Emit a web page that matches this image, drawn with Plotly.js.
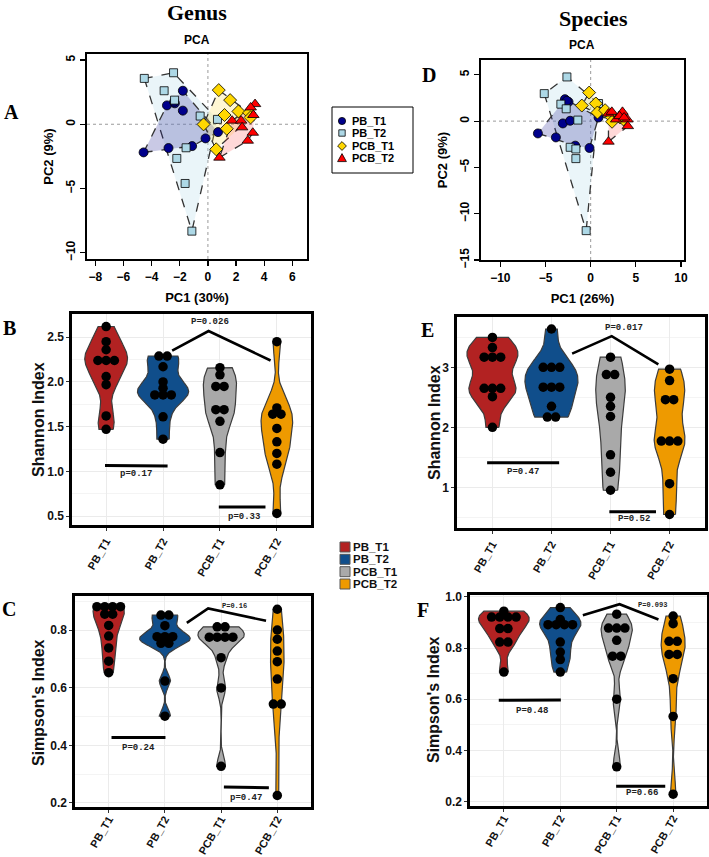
<!DOCTYPE html>
<html><head><meta charset="utf-8">
<script src="https://cdn.plot.ly/plotly-3.0.1.min.js"></script>
<style>body{margin:0;background:#fff}#chart{width:709px;height:857px}</style>
</head><body><div id="chart"></div>
<script>
const groups = ['PB_T1','PB_T2','PCB_T1','PCB_T2'];

// ---- PCA (Genus) ----
const genusPB_T1_x  = [-1.78, -2.91, -2.35, -2.40, -1.78, -4.57, -2.80, -1.12, -0.17, 0.72];
const genusPB_T1_y  = [2.61, 1.47, 1.63, 1.75, 1.06, -2.19, -1.85, -1.70, -1.10, -0.61];
const genusPB_T2_x  = [-4.52, -2.44, -3.11, -2.37, -0.55, 0.68, -1.55, -2.21, -1.62, -1.14];
const genusPB_T2_y  = [3.57, 4.01, 2.61, 1.88, 0.64, 0.38, -1.83, -2.66, -4.61, -8.32];
const genusPCB_T1_x = [0.77, 1.58, 2.17, 1.18, -0.31, 1.34, 0.59, 2.93, 3.03];
const genusPCB_T1_y = [2.66, 1.88, 1.00, 0.72, -0.01, -0.35, -1.95, 0.89, 0.53];
const genusPCB_T2_x = [3.35, 3.04, 3.23, 1.72, 2.36, 2.43, 3.19, 2.83, 0.82];
const genusPCB_T2_y = [1.57, 1.31, 0.72, 0.28, 0.28, -0.24, -0.66, -1.28, -2.60];

// ---- PCA (Species) ----
const speciesPB_T1_x  = [-2.85, -2.45, -2.64, -3.08, -2.27, -5.84, -3.85, -1.71, -0.13, 0.87];
const speciesPB_T1_y  = [2.37, 2.08, 2.19, -0.25, 0.04, -1.33, -1.76, -2.65, -2.90, 0.39];
const speciesPB_T2_x  = [-2.63, -5.14, -3.30, -2.71, -1.42, -2.27, -1.64, -1.64, -0.50, 0.87];
const speciesPB_T2_y  = [4.77, 2.97, 1.83, 1.33, 0.11, -2.83, -3.01, -4.05, -11.83, 1.90];
const speciesPCB_T1_x = [-0.17, 0.57, -0.98, 0.75, 1.60, 2.34, 3.26, 2.37, 3.63];
const speciesPCB_T1_y = [3.08, 1.90, 1.68, 0.93, 1.18, 0.39, 0.39, -0.07, 0.18];
const speciesPCB_T2_x = [1.97, 2.34, 3.52, 2.82, 4.07, 4.11, 1.97, 3.19, 3.70];
const speciesPCB_T2_y = [0.82, 1.00, 1.00, 0.18, 0.18, -0.54, -2.22, 0.54, 0.39];

// ---- Shannon (Genus) ----
const genusShannon_PB_T1  = [2.62, 2.45, 2.36, 2.24, 2.24, 2.24, 2.06, 1.97, 1.62, 1.47];
const genusShannon_PB_T2  = [2.29, 2.29, 2.17, 2.00, 1.93, 1.855, 1.855, 1.855, 1.61, 1.36];
const genusShannon_PCB_T1 = [2.16, 2.08, 1.95, 1.95, 1.69, 1.69, 1.56, 1.21, 0.85];
const genusShannon_PCB_T2 = [2.45, 1.71, 1.64, 1.64, 1.48, 1.33, 1.20, 1.08, 0.53];
// ---- Simpson (Genus) ----
const genusSimpson_PB_T1  = [0.881, 0.881, 0.881, 0.881, 0.855, 0.855, 0.816, 0.779, 0.738, 0.692, 0.652];
const genusSimpson_PB_T2  = [0.852, 0.852, 0.815, 0.777, 0.777, 0.777, 0.754, 0.754, 0.623, 0.501];
const genusSimpson_PCB_T1 = [0.811, 0.811, 0.775, 0.775, 0.775, 0.775, 0.704, 0.599, 0.327];
const genusSimpson_PCB_T2 = [0.872, 0.800, 0.768, 0.727, 0.690, 0.630, 0.543, 0.543, 0.226];
// ---- Shannon (Species) ----
const speciesShannon_PB_T1  = [3.51, 3.34, 3.18, 3.18, 3.18, 2.66, 2.66, 2.66, 2.52, 2.01];
const speciesShannon_PB_T2  = [3.65, 3.01, 3.01, 3.01, 2.68, 2.68, 2.68, 2.36, 2.18, 2.18];
const speciesShannon_PCB_T1 = [3.18, 2.89, 2.89, 2.51, 2.36, 2.19, 1.55, 1.26, 0.96];
const speciesShannon_PCB_T2 = [2.98, 2.79, 2.47, 2.47, 1.78, 1.78, 1.78, 1.07, 0.555];
// ---- Simpson (Species) ----
const speciesSimpson_PB_T1  = [0.944, 0.921, 0.921, 0.921, 0.921, 0.876, 0.876, 0.823, 0.823, 0.706];
const speciesSimpson_PB_T2  = [0.958, 0.911, 0.891, 0.891, 0.891, 0.891, 0.823, 0.784, 0.755, 0.706];
const speciesSimpson_PCB_T1 = [0.932, 0.878, 0.878, 0.878, 0.830, 0.768, 0.768, 0.600, 0.336];
const speciesSimpson_PCB_T2 = [0.925, 0.895, 0.826, 0.826, 0.775, 0.775, 0.680, 0.533, 0.229];

// ---- significance brackets and labels ----
const sigB_lines = [{x:[0.98,2.08], y:[1.065,1.06]}, {x:[2.16,2.80,3.89], y:[2.35,2.57,2.24]}, {x:[2.98,3.80], y:[0.60,0.60]}];
const sigB_text  = [{x:1.53, y:0.965, t:'p=0.17', s:9}, {x:2.83, y:2.665, t:'P=0.026', s:9}, {x:3.42, y:0.49, t:'p=0.33', s:9}];
const sigC_lines = [{x:[1.05,2.01], y:[0.427,0.427]}, {x:[2.39,2.77,3.80], y:[0.825,0.875,0.832]}, {x:[3.05,3.85], y:[0.255,0.253]}];
const sigC_text  = [{x:1.53, y:0.392, t:'P=0.24', s:9}, {x:3.24, y:0.885, t:'P=0.16', s:7}, {x:3.45, y:0.217, t:'p=0.47', s:9}];
const sigE_lines = [{x:[0.91,2.13], y:[1.42,1.42]}, {x:[2.35,3.02,3.81], y:[3.24,3.53,3.06]}, {x:[2.98,3.77], y:[0.60,0.60]}];
const sigE_text  = [{x:1.51, y:1.26, t:'P=0.47', s:9}, {x:3.22, y:3.66, t:'P=0.017', s:9}, {x:3.40, y:0.48, t:'P=0.52', s:9}];
const sigF_lines = [{x:[0.91,2.01], y:[0.596,0.597]}, {x:[2.40,3.05,3.74], y:[0.928,0.971,0.911]}, {x:[2.99,3.86], y:[0.26,0.26]}];
const sigF_text  = [{x:1.49, y:0.553, t:'P=0.48', s:9}, {x:3.63, y:0.968, t:'P=0.093', s:7}, {x:3.45, y:0.232, t:'P=0.66', s:9}];

// ---- styling ----
const SANS = 'Liberation Sans, Arial, sans-serif';
const SERIF = 'Liberation Serif, Times New Roman, serif';
const MONO = 'Liberation Mono, DejaVu Sans Mono, monospace';
const W = 709, H = 857;
const fx = p => p / W, fy = p => 1 - p / H;
const pcaSym = {PB_T1:'circle', PB_T2:'square', PCB_T1:'diamond', PCB_T2:'triangle-up'};
const pcaCol = {PB_T1:'#00008B', PB_T2:'#ADD8E6', PCB_T1:'#FFD700', PCB_T2:'#FF0000'};
const pcaSize = {PB_T1:9, PB_T2:8, PCB_T1:10, PCB_T2:10};
const hullFill = {PB_T1:'rgba(40,40,150,0.25)', PB_T2:'rgba(173,216,230,0.25)', PCB_T1:'rgba(255,225,80,0.25)', PCB_T2:'rgba(255,60,60,0.2)'};
const vioCol = {PB_T1:'#B22222', PB_T2:'#104E8B', PCB_T1:'#A9A9A9', PCB_T2:'#EE9A00'};

function hull(xs, ys) {
  const pts = xs.map((x,i)=>[x,ys[i]]).sort((a,b)=>a[0]-b[0]||a[1]-b[1]);
  const cr=(o,a,b)=>(a[0]-o[0])*(b[1]-o[1])-(a[1]-o[1])*(b[0]-o[0]);
  const lo=[]; for(const p of pts){while(lo.length>=2&&cr(lo[lo.length-2],lo[lo.length-1],p)<=0)lo.pop();lo.push(p);}
  const up=[]; for(let i=pts.length-1;i>=0;i--){const p=pts[i];while(up.length>=2&&cr(up[up.length-2],up[up.length-1],p)<=0)up.pop();up.push(p);}
  up.pop(); lo.pop(); const h=lo.concat(up); h.push(h[0]);
  return {x:h.map(p=>p[0]), y:h.map(p=>p[1])};
}
function q7(s,p){const h=(s.length-1)*p,l=Math.floor(h);return s[l]+(h-l)*(s[Math.min(l+1,s.length-1)]-s[l]);}
function nrd0(v){
  const n=v.length, m=v.reduce((a,b)=>a+b,0)/n;
  const sd=Math.sqrt(v.reduce((a,b)=>a+(b-m)*(b-m),0)/(n-1));
  const s=[...v].sort((a,b)=>a-b); const iqr=q7(s,0.75)-q7(s,0.25);
  let lo=Math.min(sd, iqr/1.34); if(!(lo>0)) lo=sd||1;
  return 0.9*lo*Math.pow(n,-0.2);
}
// Gaussian KDE, trimmed to the data range (like ggplot2 geom_violin, trim = TRUE)
function kde(v, npts){
  const bw=nrd0(v), n=v.length, lo=Math.min(...v), hi=Math.max(...v);
  const ys=[], ds=[];
  for(let k=0;k<npts;k++){
    const y=lo+(hi-lo)*k/(npts-1); let s=0;
    for(const xi of v){const z=(y-xi)/bw; s+=Math.exp(-0.5*z*z);}
    ys.push(y); ds.push(s/(n*bw*Math.sqrt(2*Math.PI)));
  }
  return {ys, ds};
}
function dodge(vals, center, step){
  const cnt={}, seen={}; vals.forEach(v=>cnt[v]=(cnt[v]||0)+1);
  return vals.map(v=>{const i=seen[v]||0; seen[v]=i+1; return center+(i-(cnt[v]-1)/2)*step;});
}

const traces = [];
const annotations = [];
const shapes = [];

function addPCA(data, xa, ya) {
  ['PB_T2','PB_T1','PCB_T1','PCB_T2'].forEach(g=>{
    const h = hull(data[g][0], data[g][1]);
    traces.push({type:'scatter', mode:'lines', x:h.x, y:h.y, xaxis:xa, yaxis:ya, fill:'toself',
      fillcolor:hullFill[g], line:{color:'#333', width:1.3, dash:'dash'}, hoverinfo:'skip', showlegend:false});
  });
  groups.forEach(g=>{
    traces.push({type:'scatter', mode:'markers', name:g, x:data[g][0], y:data[g][1], xaxis:xa, yaxis:ya,
      marker:{symbol:pcaSym[g], color:pcaCol[g], size:pcaSize[g], line:{color:'#000', width:0.8}},
      showlegend:false, hoverinfo:'skip'});
  });
}
addPCA({PB_T1:[genusPB_T1_x,genusPB_T1_y], PB_T2:[genusPB_T2_x,genusPB_T2_y], PCB_T1:[genusPCB_T1_x,genusPCB_T1_y], PCB_T2:[genusPCB_T2_x,genusPCB_T2_y]}, 'x', 'y');
addPCA({PB_T1:[speciesPB_T1_x,speciesPB_T1_y], PB_T2:[speciesPB_T2_x,speciesPB_T2_y], PCB_T1:[speciesPCB_T1_x,speciesPCB_T1_y], PCB_T2:[speciesPCB_T2_x,speciesPCB_T2_y]}, 'x2', 'y2');

function addViolins(sets, xa, ya, lines, texts, step) {
  // area-scaled violins: common density scale across the panel, max width 0.9
  const dens = sets.map(v=>kde(v, 256));
  const maxD = Math.max(...dens.map(d=>Math.max(...d.ds)));
  sets.forEach((vals, i)=>{
    const g = groups[i], pos = i+1, d = dens[i];
    const hw = d.ds.map(v=>0.45*v/maxD);
    const xs = d.ys.map((y,k)=>pos+hw[k]).concat(d.ys.map((y,k)=>pos-hw[k]).reverse());
    const ys = d.ys.concat([...d.ys].reverse());
    xs.push(xs[0]); ys.push(ys[0]);
    traces.push({type:'scatter', mode:'lines', name:g, x:xs, y:ys, xaxis:xa, yaxis:ya, fill:'toself',
      fillcolor:vioCol[g], line:{color:'#3c3c3c', width:1.2}, hoverinfo:'skip', showlegend:false});
  });
  sets.forEach((vals, i)=>{
    traces.push({type:'scatter', mode:'markers', x:dodge(vals, i+1, step), y:vals, xaxis:xa, yaxis:ya,
      marker:{color:'#000', size:9.5}, hoverinfo:'skip', showlegend:false});
  });
  lines.forEach(l=>traces.push({type:'scatter', mode:'lines', x:l.x, y:l.y, xaxis:xa, yaxis:ya,
    line:{color:'#000', width:l.x.length>2?2.6:3}, hoverinfo:'skip', showlegend:false}));
  texts.forEach(t=>annotations.push({xref:xa, yref:ya, x:t.x, y:t.y, text:t.t, showarrow:false,
    xanchor:'center', yanchor:'middle', font:{family:MONO, size:t.s, weight:'bold', color:'#222'}}));
}
addViolins([genusShannon_PB_T1, genusShannon_PB_T2, genusShannon_PCB_T1, genusShannon_PCB_T2], 'x3', 'y3', sigB_lines, sigB_text, 0.145);
addViolins([speciesShannon_PB_T1, speciesShannon_PB_T2, speciesShannon_PCB_T1, speciesShannon_PCB_T2], 'x4', 'y4', sigE_lines, sigE_text, 0.14);
addViolins([genusSimpson_PB_T1, genusSimpson_PB_T2, genusSimpson_PCB_T1, genusSimpson_PCB_T2], 'x5', 'y5', sigC_lines, sigC_text, 0.14);
addViolins([speciesSimpson_PB_T1, speciesSimpson_PB_T2, speciesSimpson_PCB_T1, speciesSimpson_PCB_T2], 'x6', 'y6', sigF_lines, sigF_text, 0.145);

// zero reference lines on PCA
[['x','y'],['x2','y2']].forEach(([xa,ya])=>{
  shapes.push({type:'line', xref:xa, yref:ya+' domain', x0:0, x1:0, y0:0, y1:1, line:{color:'#9a9a9a', width:1, dash:'dot'}, layer:'below'});
  shapes.push({type:'line', xref:xa+' domain', yref:ya, x0:0, x1:1, y0:0, y1:0, line:{color:'#9a9a9a', width:1, dash:'dot'}, layer:'below'});
});

// ---- legends (drawn as shapes + text) ----
const pcaLegendRows = [121, 133, 146, 158];
shapes.push({type:'rect', xref:'paper', yref:'paper', x0:fx(332), x1:fx(413), y0:fy(173), y1:fy(107), line:{color:'#000', width:1}, fillcolor:'#fff'});
groups.forEach((g,i)=>{
  const cx = 342, cy = pcaLegendRows[i];
  const P = (dx,dy)=>fx(cx+dx).toFixed(5)+','+fy(cy+dy).toFixed(5);
  const st = {xref:'paper', yref:'paper', fillcolor:pcaCol[g], line:{color:'#000', width:0.8}};
  if (pcaSym[g]==='circle') shapes.push({...st, type:'circle', x0:fx(cx-3.6), x1:fx(cx+3.6), y0:fy(cy+3.6), y1:fy(cy-3.6)});
  else if (pcaSym[g]==='square') shapes.push({...st, type:'rect', x0:fx(cx-3.2), x1:fx(cx+3.2), y0:fy(cy+3.2), y1:fy(cy-3.2)});
  else if (pcaSym[g]==='diamond') shapes.push({...st, type:'path', path:'M'+P(0,-4.4)+'L'+P(4.4,0)+'L'+P(0,4.4)+'L'+P(-4.4,0)+'Z'});
  else shapes.push({...st, type:'path', path:'M'+P(0,-4.4)+'L'+P(4.4,3.6)+'L'+P(-4.4,3.6)+'Z'});
  annotations.push({xref:'paper', yref:'paper', x:fx(351), y:fy(cy), xanchor:'left', yanchor:'middle', text:g, showarrow:false,
    borderpad:0, font:{family:SANS, size:11, weight:'bold', color:'#000'}});
});
const vioLegendRows = [547, 559.3, 571.7, 584];
groups.forEach((g,i)=>{
  const cy = vioLegendRows[i];
  shapes.push({type:'rect', xref:'paper', yref:'paper', x0:fx(340), x1:fx(350), y0:fy(cy+5), y1:fy(cy-5), fillcolor:vioCol[g], line:{color:'#555', width:1}});
  annotations.push({xref:'paper', yref:'paper', x:fx(352), y:fy(cy), xanchor:'left', yanchor:'middle', text:g, showarrow:false,
    borderpad:0, font:{family:SANS, size:11.5, weight:'bold', color:'#111'}});
});

// violin y-axis titles
[['Shannon Index',38,420],['Shannon Index',434,423],["Simpson's Index",38,703],["Simpson's Index",433,700]].forEach(([t,x,y])=>
  annotations.push({xref:'paper', yref:'paper', x:fx(x), y:fy(y), xanchor:'center', yanchor:'middle', textangle:-90, text:t, showarrow:false,
    font:{family:SANS, size:16, weight:'bold', color:'#111'}}));

function pcaX(dom, anchor, range, tv, title){
  return {domain:dom, anchor, range, tickvals:tv, ticks:'outside', ticklen:5, tickwidth:1.2, tickcolor:'#000',
    showline:true, mirror:true, linewidth:2.2, linecolor:'#000', showgrid:false, zeroline:false,
    tickfont:{family:SANS, size:12, weight:'bold', color:'#000'},
    title:{text:title, font:{family:SANS, size:13, weight:'bold', color:'#000'}, standoff:10}};
}
function pcaY(dom, anchor, range, tv, title){
  const a = pcaX(dom, anchor, range, tv, title); a.tickangle = -90; a.title.standoff = 8; return a;
}
function vX(dom, anchor, lso){
  return {domain:dom, anchor, range:[0.4,4.6], tickvals:[1,2,3,4], ticktext:groups, tickangle:-60,
    tickfont:{family:SANS, size:11, weight:'bold', color:'#111'}, ticks:'outside', ticklen:3, tickcolor:'#333',
    ticklabelstandoff:lso,
    showline:true, mirror:true, linewidth:2.6, linecolor:'#000', showgrid:true, gridcolor:'#ebebeb', gridwidth:1, zeroline:false};
}
function vY(dom, anchor, range, dtick, fmt){
  return {domain:dom, anchor, range, dtick, tick0:0, tickformat:fmt,
    tickfont:{family:SANS, size:12, weight:'bold', color:'#111'}, ticks:'outside', ticklen:3, tickcolor:'#333',
    showline:true, mirror:true, linewidth:2.6, linecolor:'#000', showgrid:true, gridcolor:'#ebebeb', zeroline:false,
    minor:{dtick:dtick/2, showgrid:true, gridcolor:'#f4f4f4', ticks:''}};
}

// titles & panel letters
[['Genus',197,13,22],['Species',593,18,22]].forEach(([t,x,y,s])=>annotations.push({xref:'paper',yref:'paper',x:fx(x),y:fy(y),xanchor:'center',yanchor:'middle',text:t,showarrow:false,font:{family:SERIF,size:s,weight:'bold',color:'#000'}}));
[['PCA',197,40],['PCA',582,45]].forEach(([t,x,y])=>annotations.push({xref:'paper',yref:'paper',x:fx(x),y:fy(y),xanchor:'center',yanchor:'middle',text:t,showarrow:false,font:{family:SANS,size:12,weight:'bold',color:'#000'}}));
[['A',11,112],['B',9,328],['C',9,609],['D',429,75],['E',428,330],['F',423,610]].forEach(([t,x,y])=>annotations.push({xref:'paper',yref:'paper',x:fx(x),y:fy(y),xanchor:'center',yanchor:'middle',text:t,showarrow:false,font:{family:SERIF,size:20,weight:'bold',color:'#000'}}));

const layout = {
  width:W, height:H, margin:{l:0,r:0,t:0,b:0}, paper_bgcolor:'#fff', plot_bgcolor:'#fff',
  hovermode:false, font:{family:SANS}, showlegend:false,
  xaxis:  pcaX([fx(87),fx(307)], 'y', [-8.59,7.04], [-8,-6,-4,-2,0,2,4,6], 'PC1 (30%)'),
  yaxis:  pcaY([fy(259),fy(54)], 'x', [-10.49,5.47], [-10,-5,0,5], 'PC2 (9%)'),
  xaxis2: pcaX([fx(481),fx(684)], 'y2', [-12.14,10.33], [-10,-5,0,5,10], 'PC1 (26%)'),
  yaxis2: pcaY([fy(260),fy(60)], 'x2', [-15.0,6.6], [-15,-10,-5,0,5], 'PC2 (9%)'),
  xaxis3: vX([fx(72),fx(311)], 'y3', 0),
  yaxis3: vY([fy(525),fy(314)], 'x3', [0.40,2.76], 0.5, '.1f'),
  xaxis4: vX([fx(457),fx(705)], 'y4', 0),
  yaxis4: vY([fy(528),fy(317)], 'x4', [0.33,3.85], 1, 'd'),
  xaxis5: vX([fx(75),fx(311)], 'y5', -4),
  yaxis5: vY([fy(807),fy(596)], 'x5', [0.186,0.918], 0.2, '.1f'),
  xaxis6: vX([fx(470),fx(707)], 'y6', -4),
  yaxis6: vY([fy(806),fy(595)], 'x6', [0.183,1.007], 0.2, '.1f'),
  annotations, shapes
};
Plotly.newPlot('chart', traces, layout, {staticPlot:true, displayModeBar:false});
</script></body></html>
